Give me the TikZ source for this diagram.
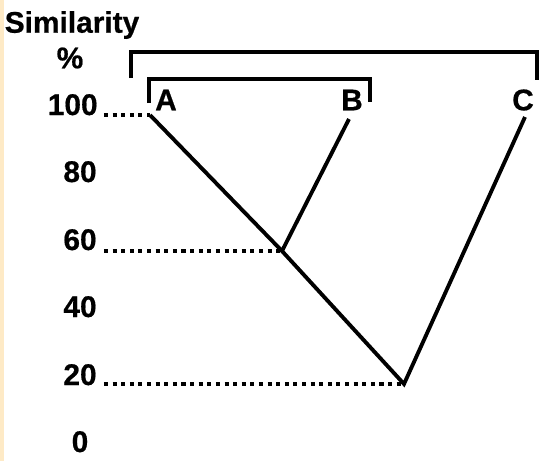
\documentclass[tikz,border=0pt]{standalone}
\usepackage{fontspec}
\setmainfont{Liberation Sans}[FakeBold=0.6]
\begin{document}
\begin{tikzpicture}[x=0.02cm,y=-0.02cm,
  branch/.style={line width=2.2pt, line join=miter},
  bracket/.style={line width=2.2pt},
  guide/.style={line width=2.3pt, dash pattern=on 2.3pt off 2.6pt},
  lbl/.style={font=\fontsize{17}{20}\selectfont\bfseries, inner sep=0pt},
  leaf/.style={font=\fontsize{17}{20}\selectfont\bfseries, inner sep=0pt}]
\useasboundingbox (0,0) rectangle (539,461);
\fill[white] (0,0) rectangle (539,461);
\fill[yellow!25!orange!20] (0,0) rectangle (4,461);
% title
\node[lbl] (title) at (72,25) {Similarity};
\node[lbl] (pct) at (70,58) {\%};
% axis labels (baseline on guide lines)
\node[lbl, anchor=base east] (l100) at (98,115) {100};
\node[lbl, anchor=base east] (l80) at (97,182) {80};
\node[lbl, anchor=base east] (l60) at (97,250) {60};
\node[lbl, anchor=base east] (l40) at (97,317) {40};
\node[lbl, anchor=base east] (l20) at (97,385) {20};
\node[lbl, anchor=base] (l0) at (80,452) {0};
% leaves and junctions
\coordinate (a) at (150,115);
\coordinate (b) at (349,119);
\coordinate (c) at (525,117);
\coordinate (n60) at (282,251);
\coordinate (n20) at (404,384);
\node[leaf] (A) at (166,100) {A};
\node[leaf] (B) at (352,100) {B};
\node[leaf] (C) at (523,100) {C};
% branches
\draw[branch] (a) -- (n60) -- (n20) -- (c);
\draw[branch] (b) -- (n60);
% guides
\coordinate (g100) at (104,115);
\coordinate (g60) at (104,251);
\coordinate (g20) at (104,384);
\draw[guide] (g100) -- (a);
\draw[guide] (g60) -- (n60);
\draw[guide] (g20) -- (n20);
% brackets
\draw[bracket] (131,78) -- (131,52) -- (537,52) -- (537,80);
\draw[bracket] (149,103) -- (149,79) -- (370,79) -- (370,102);
\end{tikzpicture}
\end{document}
